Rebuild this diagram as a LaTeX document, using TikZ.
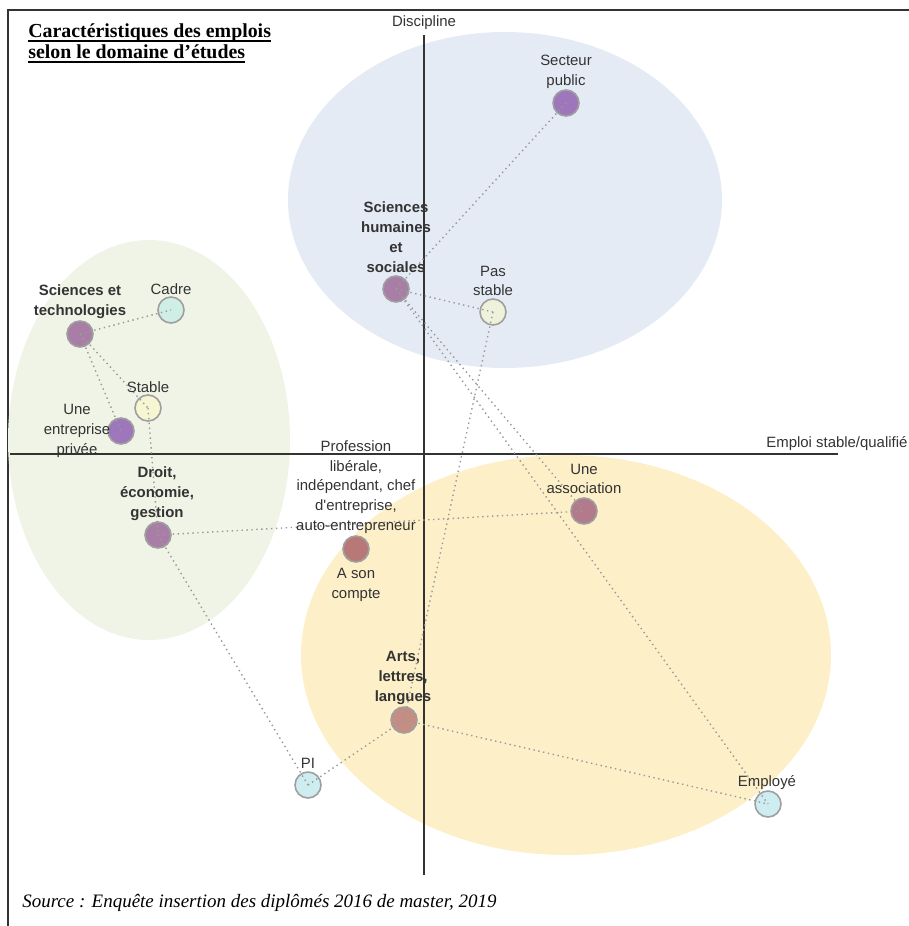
\documentclass[tikz,border=0pt]{standalone}
\usepackage{fontspec}
\setmainfont{Liberation Serif}
\newfontfamily\lblfont{Liberation Sans}
\definecolor{elblue}{HTML}{E5EBF5}
\definecolor{elgreen}{HTML}{F0F4E6}
\definecolor{elyellow}{HTML}{FDF0C8}
\definecolor{cpurple}{HTML}{9E76BC}
\definecolor{cmauve}{HTML}{A97EA6}
\definecolor{cassoc}{HTML}{B27A8A}
\definecolor{ccompte}{HTML}{B97878}
\definecolor{carts}{HTML}{C48E84}
\definecolor{cteal}{HTML}{CFEEE6}
\definecolor{ccyan}{HTML}{CDEDF0}
\definecolor{cstable}{HTML}{F6F6D2}
\definecolor{cpas}{HTML}{EEF2DA}
\definecolor{txt}{HTML}{333333}
\tikzset{
  pt/.style={circle, draw=gray!75, line width=0.9pt, minimum size=26*0.02cm, inner sep=0pt},
  lbl/.style={font=\lblfont\fontsize{8.5}{11.3}\selectfont, text=txt, align=center, inner sep=0pt},
  blbl/.style={lbl, font=\lblfont\bfseries\fontsize{8.5}{11.3}\selectfont},
  link/.style={draw=gray!80, dotted, line width=0.8pt},
  axis/.style={draw=black!80, line width=1.1pt},
  ttl/.style={anchor=base west, inner sep=0pt, font=\bfseries\fontsize{11.3}{12.5}\selectfont},
}
\begin{document}
\begin{tikzpicture}[x=0.02cm, y=-0.02cm]
\useasboundingbox (0,0) rectangle (909,926);
% frame
\draw[black!80, line width=1.2pt] (8,926) -- (8,10) -- (909,10);
% ellipses
\fill[elblue] (505,200) ellipse [x radius=217, y radius=168];
\fill[elgreen] (149,440) ellipse [x radius=141, y radius=200];
\fill[elyellow] (566,655) ellipse [x radius=265, y radius=200];
% title
\node[ttl] (title1) at (28,38) {Caractéristiques des emplois};
\node[ttl] (title2) at (28,59) {selon le domaine d{\char"0027}études};
\draw[line width=0.8pt] ([yshift=-1.6pt]title1.base west) -- ([yshift=-1.6pt]title1.base east);
\draw[line width=0.8pt] ([yshift=-1.6pt]title2.base west) -- ([yshift=-1.6pt]title2.base east);
% axes
\coordinate (vtop) at (424,35);
\coordinate (vbot) at (424,875);
\coordinate (hl) at (10,454);
\coordinate (hr) at (838,454);
\draw[axis] (vtop) -- (vbot);
\draw[axis] (hl) -- (hr);
\node[lbl] (disc) at (424,23) {Discipline};
\node[lbl, anchor=south west] (emploi) at (766,451) {Emploi stable/qualifié};
% points
\node[pt, fill=cpurple] (sp) at (566,103) {};
\node[pt, fill=cmauve] (shs) at (396,289) {};
\node[pt, fill=cpas] (pas) at (493,312) {};
\node[pt, fill=cteal] (cadre) at (171,310) {};
\node[pt, fill=cmauve] (st) at (80,334) {};
\node[pt, fill=cstable] (stable) at (148,408) {};
\node[pt, fill=cpurple] (ent) at (121,431) {};
\node[pt, fill=cmauve] (droit) at (158,535) {};
\node[pt, fill=ccompte] (compte) at (356,549) {};
\node[pt, fill=cassoc] (assoc) at (584,511) {};
\node[pt, fill=carts] (arts) at (404,720) {};
\node[pt, fill=ccyan] (pi) at (308,785) {};
\node[pt, fill=ccyan] (empl) at (768,804) {};
% links
\path[link] (shs.center) -- (sp.center);
\path[link] (shs.center) -- (pas.center);
\path[link] (shs.center) -- (assoc.center);
\path[link] (shs.center) -- (empl.center);
\path[link] (pas.center) -- (arts.center);
\path[link] (st.center) -- (cadre.center);
\path[link] (st.center) -- (stable.center);
\path[link] (st.center) -- (ent.center);
\path[link] (stable.center) -- (droit.center);
\path[link] (droit.center) -- (assoc.center);
\path[link] (droit.center) -- (pi.center);
\path[link] (pi.center) -- (arts.center);
\path[link] (arts.center) -- (empl.center);
% labels
\node[lbl] (lsp) at (566,72) {Secteur\\public};
\node[blbl] (lshs) at (396,237) {Sciences\\humaines\\et\\sociales};
\node[lbl] (lpas) at (493,281) {Pas\\stable};
\node[lbl] (lcadre) at (171,289) {Cadre};
\node[blbl] (lst) at (80,302) {Sciences et\\technologies};
\node[lbl] (lstable) at (148,387) {Stable};
\node[lbl] (lent) at (77,431) {Une\\entreprise\\privée};
\node[blbl] (ldroit) at (157,494) {Droit,\\économie,\\gestion};
\node[lbl] (lprof) at (356,487) {Profession\\libérale,\\indépendant, chef\\d'entreprise,\\auto-entrepreneur};
\node[lbl] (lcompte) at (356,585) {A son\\compte};
\node[lbl] (lassoc) at (584,479) {Une\\association};
\node[blbl] (larts) at (403,678) {Arts,\\lettres,\\langues};
\node[lbl] (lpi) at (308,763) {PI};
\node[lbl] (lempl) at (767,783) {Employé};
% source
\node[anchor=west, inner sep=0pt, font=\itshape\fontsize{10.8}{12}\selectfont] (src) at (22,903)
  {Source : Enquête insertion des diplômés 2016 de master, 2019};
\end{tikzpicture}
\end{document}
